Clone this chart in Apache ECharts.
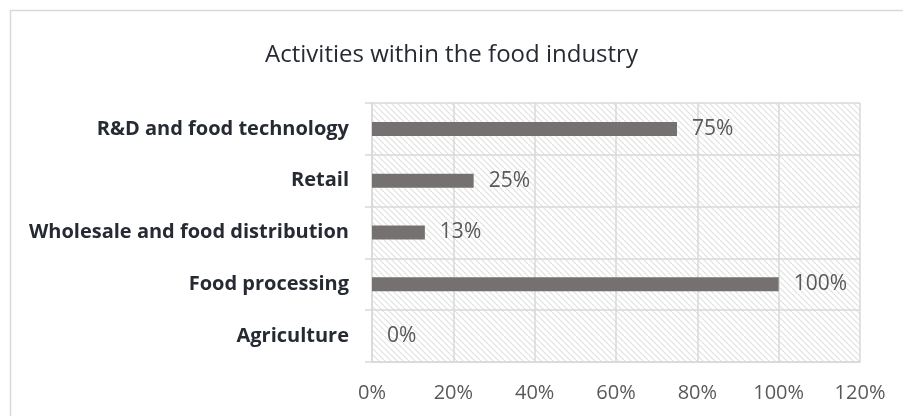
<!DOCTYPE html>
<html>
<head>
<meta charset="utf-8">
<style>
  html, body { margin: 0; padding: 0; background: #ffffff; }
  #chart { width: 903px; height: 416px; }
</style>
<script src="https://cdn.jsdelivr.net/npm/echarts@6/dist/echarts.min.js"></script>
</head>
<body>
<div id="chart"></div>
<script>
// Share of respondents active in each part of the food industry (%)
const categories = [
  'Agriculture',
  'Food processing',
  'Wholesale and food distribution',
  'Retail',
  'R&D and food technology'
];
const shares = [0, 100, 13, 25, 75];
const xTicks = [0, 20, 40, 60, 80, 100, 120];

// Diagonal hatch tile used as the plot-area fill
function hatchTile(size, color) {
  const c = document.createElement('canvas');
  c.width = size; c.height = size;
  const ctx = c.getContext('2d');
  ctx.strokeStyle = color;
  ctx.lineWidth = 1.2;
  ctx.beginPath();
  for (let k = -1; k <= 1; k++) {
    ctx.moveTo(k * size, 0);
    ctx.lineTo(k * size + size, size);
  }
  ctx.stroke();
  return c;
}

const gridLine = '#d9d9d9';
const font = 'Open Sans';
const chart = echarts.init(document.getElementById('chart'));

chart.setOption({
  animation: false,
  backgroundColor: '#ffffff',
  title: {
    text: 'Activities within the food industry',
    left: 'center',
    top: 38,
    textStyle: {
      fontFamily: font,
      fontWeight: 'normal',
      fontSize: 24,
      color: '#262b33'
    }
  },
  graphic: [{
    type: 'rect',
    shape: { x: 10.5, y: 10.5, width: 1000, height: 1000 },
    style: { fill: null, stroke: gridLine, lineWidth: 1.5 },
    silent: true
  }],
  grid: {
    left: 372,
    right: 43,
    top: 103,
    bottom: 54,
    show: true,
    borderWidth: 0,
    backgroundColor: { image: hatchTile(6, '#e0e0e0'), repeat: 'repeat' }
  },
  xAxis: {
    type: 'value',
    min: xTicks[0],
    max: xTicks[xTicks.length - 1],
    interval: xTicks[1] - xTicks[0],
    axisLine: { show: true, lineStyle: { color: gridLine, width: 1.5 } },
    axisTick: { show: false },
    splitLine: { show: true, lineStyle: { color: gridLine, width: 1.5 } },
    axisLabel: {
      formatter: '{value}%',
      margin: 21,
      fontFamily: font,
      fontSize: 20,
      color: '#595959'
    }
  },
  yAxis: {
    type: 'category',
    data: categories,
    axisLine: { show: true, lineStyle: { color: gridLine, width: 1.5 } },
    axisTick: { show: true, length: 7, lineStyle: { color: gridLine, width: 1.5 } },
    splitLine: { show: true, lineStyle: { color: gridLine, width: 1.5 } },
    axisLabel: {
      margin: 23,
      fontFamily: font,
      fontWeight: 'bold',
      fontSize: 20,
      color: '#262b33'
    }
  },
  series: [{
    type: 'bar',
    data: shares,
    barWidth: 14,
    itemStyle: { color: '#767171' },
    label: {
      show: true,
      position: 'right',
      distance: 15,
      formatter: '{c}%',
      fontFamily: font,
      fontSize: 21,
      color: '#595959'
    }
  }]
});
</script>
</body>
</html>
